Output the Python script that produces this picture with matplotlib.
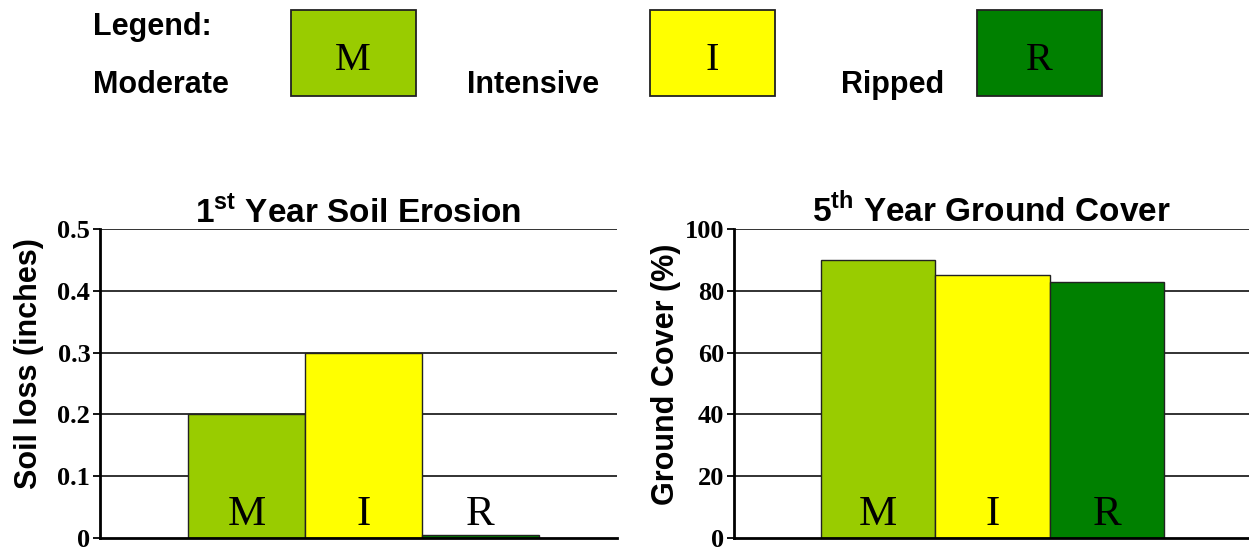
import matplotlib
matplotlib.use('Agg')
import matplotlib.pyplot as plt
from matplotlib.patches import Rectangle

# data
codes = ['M', 'I', 'R']
names = ['Moderate', 'Intensive', 'Ripped']
colors = ['#99CC00', '#FFFF00', '#008000']
soil_loss = [0.2, 0.3, 0.005]
ground_cover = [90, 85, 83]
loss_ticks = [0, 0.1, 0.2, 0.3, 0.4, 0.5]
loss_tick_labels = ['0', '0.1', '0.2', '0.3', '0.4', '0.5']
cover_ticks = [0, 20, 40, 60, 80, 100]

plt.rcParams['mathtext.fontset'] = 'custom'
plt.rcParams['mathtext.rm'] = 'Liberation Sans:bold'
plt.rcParams['mathtext.bf'] = 'Liberation Sans:bold'

SANS = 'Liberation Sans'
SERIF = 'Liberation Serif'

fig = plt.figure(figsize=(12.49, 5.48), dpi=100)

W, H = 1249, 548


def px_axes(x0, x1, y_top, y_bot):
    return fig.add_axes([x0 / W, 1 - y_bot / H, (x1 - x0) / W, (y_bot - y_top) / H])


def draw_panel(ax, values, ymax, ticks, ticklabels, xlim, title, ylabel, label_xy):
    x = range(len(values))
    ax.set_ylim(0, ymax)
    ax.set_xlim(*xlim)
    ax.set_yticks(ticks)
    ax.set_yticklabels(ticklabels, fontfamily=SERIF, fontweight='bold', fontsize=19)
    ax.set_xticks([])
    for t in ticks[1:]:
        ax.axhline(t, color='#222222', lw=1.3, zorder=1)
    ax.bar(x, values, width=1.0, color=colors, edgecolor='#222222', linewidth=1.0, zorder=2)
    for i, c in enumerate(codes):
        ax.text(i, ymax * 0.012, c, ha='center', va='bottom', fontfamily=SERIF,
                fontsize=31, color='black', zorder=3)
    for s in ['top', 'right']:
        ax.spines[s].set_visible(False)
    ax.spines['left'].set_linewidth(2)
    ax.spines['bottom'].set_linewidth(2)
    ax.tick_params(axis='y', length=5, width=1.3, pad=2)
    ax.set_title(title, fontfamily=SANS, fontweight='bold', fontsize=24, pad=1)
    ax.set_ylabel(ylabel, fontfamily=SANS, fontweight='bold', fontsize=22)
    ax.yaxis.set_label_coords(*label_xy)


ax1 = px_axes(100, 617, 229, 538)
draw_panel(ax1, soil_loss, 0.5, loss_ticks, loss_tick_labels, (-1.255, 3.17),
           r'1$^{\mathrm{st}}$ Year Soil Erosion', 'Soil loss (inches)', (-0.108, 0.565))

ax2 = px_axes(734, 1249, 229, 538)
draw_panel(ax2, ground_cover, 100, cover_ticks, [str(t) for t in cover_ticks], (-1.26, 3.24),
           r'5$^{\mathrm{th}}$ Year Ground Cover', 'Ground Cover (%)', (-0.103, 0.53))

# legend row at top
fig.text(93 / W, 1 - 27 / H, 'Legend:', fontfamily=SANS, fontweight='bold', fontsize=22,
         ha='left', va='center')
box_left = [291, 650, 977]
name_left = [93, 467, 841]
for i in range(3):
    fig.patches.append(Rectangle((box_left[i] / W, 1 - 96 / H), 125 / W, 86 / H,
                                 transform=fig.transFigure, facecolor=colors[i],
                                 edgecolor='#222222', linewidth=1.3))
    fig.text((box_left[i] + 62) / W, 1 - 60 / H, codes[i], fontfamily=SERIF, fontsize=29,
             ha='center', va='center')
    fig.text(name_left[i] / W, 1 - 85 / H, names[i], fontfamily=SANS, fontweight='bold',
             fontsize=22, ha='left', va='center')

fig.savefig('out.png', dpi=100)
